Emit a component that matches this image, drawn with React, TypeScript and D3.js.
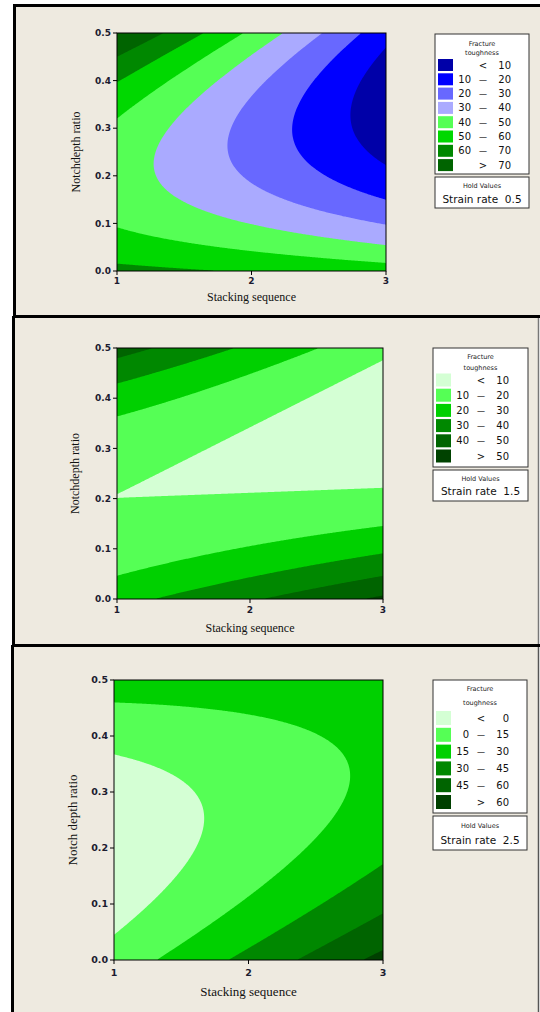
import React from 'react';
import * as d3 from 'd3';

// Axis ranges and ticks shared by the three contour plots
const xDomain = [1, 3];
const yDomain = [0, 0.5];
const xTicks = [1, 2, 3];
const yTicks = [0, 0.1, 0.2, 0.3, 0.4, 0.5];
const xTitle = 'Stacking sequence';
const yTitles = ['Notchdepth ratio', 'Notchdepth ratio', 'Notch depth ratio'];
const legendTitle = ['Fracture', 'toughness'];
const holdTitle = 'Hold Values';
const holdName = 'Strain rate';
const strainRates = ['0.5', '1.5', '2.5'];

// Fitted response surfaces for fracture toughness.
// Terms: [constant, x, y, x², y², x·y] with x = stacking sequence, y = notch depth ratio
const surface05 = [65.35, -2.31, -116.96, -0.39, 430, -60.2];
const surface15 = [15.7, 10.49, -106.03, 0.53, 398, -57.15];
const surface25 = [-19.1, 24.31, -105.81, 1.21, 389, -54.46];

// Contour levels for each hold value
const levels05 = [10, 20, 30, 40, 50, 60, 70];
const levels15 = [10, 20, 30, 40, 50];
const levels25 = [0, 15, 30, 45, 60];

// Band colours, lowest band first
const colors05 = ['#0000A8', '#0000FF', '#6868FF', '#AAAAFF', '#55FF55', '#00D800', '#008800', '#006400'];
const colors15 = ['#D4FFD4', '#55FF55', '#00D000', '#008800', '#006400', '#004200'];
const colors25 = ['#D4FFD4', '#55FF55', '#00D000', '#008800', '#006400', '#004000'];

const BG = '#EEEAE0';

interface Layout {
  plot: [number, number, number, number]; // left, right, top, bottom
  tickFont: number;
  titleFont: number;
  xTickY: number;
  xTitleY: number;
  yTitleX: number;
  legend: { x: number; y: number; w: number; h: number; t1: number; t2: number; row0: number; step: number; sw: number };
  hold: { y: number; h: number; t1: number; t2: number };
}

const layouts: Layout[] = [
  {
    plot: [117, 386, 33, 271],
    tickFont: 9,
    titleFont: 12,
    xTickY: 281,
    xTitleY: 297,
    yTitleX: 76,
    legend: { x: 435, y: 34, w: 94, h: 140, t1: 44, t2: 53, row0: 65, step: 14.3, sw: 12 },
    hold: { y: 177, h: 31, t1: 186, t2: 199 },
  },
  {
    plot: [117, 383, 348, 599],
    tickFont: 9,
    titleFont: 12,
    xTickY: 610,
    xTitleY: 628,
    yTitleX: 75,
    legend: { x: 433, y: 348, w: 95, h: 119, t1: 357, t2: 368, row0: 380, step: 15.2, sw: 13 },
    hold: { y: 470, h: 31, t1: 479, t2: 491 },
  },
  {
    plot: [114, 383, 680, 960],
    tickFont: 9.5,
    titleFont: 13,
    xTickY: 973,
    xTitleY: 991,
    yTitleX: 72,
    legend: { x: 433, y: 680, w: 94, h: 133, t1: 689, t2: 703, row0: 718, step: 16.8, sw: 14 },
    hold: { y: 816, h: 34, t1: 826, t2: 840 },
  },
];

const surfaces = [surface05, surface15, surface25];
const levelSets = [levels05, levels15, levels25];
const colorSets = [colors05, colors15, colors25];

function evalSurface(c: number[], x: number, y: number) {
  return c[0] + c[1] * x + c[2] * y + c[3] * x * x + c[4] * y * y + c[5] * x * y;
}

function fmtTick(v: number) {
  return v.toFixed(1);
}

function ContourPanel({ idx }: { idx: number }) {
  const L = layouts[idx];
  const coef = surfaces[idx];
  const levels = levelSets[idx];
  const colors = colorSets[idx];
  const [left, right, top, bottom] = L.plot;
  const x = d3.scaleLinear().domain(xDomain).range([left, right]);
  const y = d3.scaleLinear().domain(yDomain).range([bottom, top]);

  const nx = 240;
  const ny = 240;
  const values = new Array(nx * ny);
  for (let j = 0; j < ny; j++) {
    const yv = yDomain[1] - ((j + 0.5) / ny) * (yDomain[1] - yDomain[0]);
    for (let i = 0; i < nx; i++) {
      const xv = xDomain[0] + ((i + 0.5) / nx) * (xDomain[1] - xDomain[0]);
      values[j * nx + i] = evalSurface(coef, xv, yv);
    }
  }
  const bands = d3.contours().size([nx, ny]).thresholds(levels)(values);
  const proj = d3.geoTransform({
    point(px: number, py: number) {
      this.stream.point(
        x(xDomain[0] + (px / nx) * (xDomain[1] - xDomain[0])),
        y(yDomain[1] - (py / ny) * (yDomain[1] - yDomain[0]))
      );
    },
  });
  const path = d3.geoPath(proj);
  const clipId = `plot-clip-${idx}`;

  const lg = L.legend;
  const labels = colors.map((_, i) => {
    if (i === 0) return { lo: '', mid: '<', hi: String(levels[0]) };
    if (i === colors.length - 1) return { lo: '', mid: '>', hi: String(levels[levels.length - 1]) };
    return { lo: String(levels[i - 1]), mid: '\u2014', hi: String(levels[i]) };
  });
  const sans = '"DejaVu Sans", Verdana, sans-serif';
  const serif = '"Liberation Serif", "Times New Roman", serif';

  return (
    <g>
      <defs>
        <clipPath id={clipId}>
          <rect x={left} y={top} width={right - left} height={bottom - top} />
        </clipPath>
      </defs>
      <g clipPath={`url(#${clipId})`}>
        <rect x={left} y={top} width={right - left} height={bottom - top} fill={colors[0]} />
        {bands.map((b, i) => (
          <path key={i} d={path(b as any) || ''} fill={colors[i + 1]} stroke="none" />
        ))}
      </g>
      <rect x={left} y={top} width={right - left} height={bottom - top} fill="none" stroke="#000" strokeWidth={1} />
      {yTicks.map((t) => (
        <g key={`y${t}`}>
          <line x1={left - 4} x2={left} y1={y(t)} y2={y(t)} stroke="#000" />
          <text x={left - 6} y={y(t)} dy="0.35em" textAnchor="end" fontFamily={sans} fontWeight="bold" fontSize={L.tickFont} fill="#1c1c30">
            {fmtTick(t)}
          </text>
        </g>
      ))}
      {xTicks.map((t) => (
        <g key={`x${t}`}>
          <line x1={x(t)} x2={x(t)} y1={bottom} y2={bottom + 4} stroke="#000" />
          <text x={x(t)} y={L.xTickY} dy="0.35em" textAnchor="middle" fontFamily={sans} fontWeight="bold" fontSize={L.tickFont} fill="#1c1c30">
            {t}
          </text>
        </g>
      ))}
      <text x={(left + right) / 2} y={L.xTitleY} dy="0.35em" textAnchor="middle" fontFamily={serif} fontSize={L.titleFont} fill="#111">
        {xTitle}
      </text>
      <text
        transform={`translate(${L.yTitleX},${(top + bottom) / 2}) rotate(-90)`}
        dy="0.35em"
        textAnchor="middle"
        fontFamily={serif}
        fontSize={L.titleFont}
        fill="#111"
      >
        {yTitles[idx]}
      </text>

      {/* legend */}
      <rect x={lg.x} y={lg.y} width={lg.w} height={lg.h} fill="#fff" stroke="#333" strokeWidth={1} />
      <text x={lg.x + lg.w / 2} y={lg.t1} dy="0.35em" textAnchor="middle" fontFamily={sans} fontSize={6.5} fill="#222">
        {legendTitle[0]}
      </text>
      <text x={lg.x + lg.w / 2} y={lg.t2} dy="0.35em" textAnchor="middle" fontFamily={sans} fontSize={6.5} fill="#222">
        {legendTitle[1]}
      </text>
      {labels.map((lb, i) => {
        const cy = lg.row0 + i * lg.step;
        return (
          <g key={`lg${i}`}>
            <rect x={lg.x + 3} y={cy - lg.sw / 2} width={15} height={lg.sw} fill={colors[i]} />
            <text x={lg.x + 36} y={cy + 3.5} textAnchor="end" fontFamily={sans} fontSize={10} fill="#111">
              {lb.lo}
            </text>
            <text x={lg.x + 48} y={cy + 3.5} textAnchor="middle" fontFamily={sans} fontSize={lb.mid === '\u2014' ? 8 : 10} fill="#111">
              {lb.mid}
            </text>
            <text x={lg.x + 76} y={cy + 3.5} textAnchor="end" fontFamily={sans} fontSize={10} fill="#111">
              {lb.hi}
            </text>
          </g>
        );
      })}
      <rect x={lg.x} y={L.hold.y} width={lg.w} height={L.hold.h} fill="#fff" stroke="#333" strokeWidth={1} />
      <text x={lg.x + lg.w / 2} y={L.hold.t1} dy="0.35em" textAnchor="middle" fontFamily={sans} fontSize={6.5} fill="#222">
        {holdTitle}
      </text>
      <text x={lg.x + lg.w / 2} y={L.hold.t2} dy="0.35em" textAnchor="middle" fontFamily={sans} fontSize={10.5} fill="#111">
        {`${holdName}\u00a0 ${strainRates[idx]}`}
      </text>
    </g>
  );
}

export default function App() {
  return (
    <div style={{ position: 'absolute', left: 0, top: 0, width: 540, height: 1012, background: '#fff' }}>
      <svg width={540} height={1012} viewBox="0 0 540 1012" style={{ display: 'block' }}>
        <rect x={0} y={0} width={540} height={1012} fill="#fff" />
        {/* frame backgrounds */}
        <rect x={14} y={5} width={526} height={312} fill={BG} />
        <rect x={13} y={317} width={525} height={328} fill={BG} />
        <rect x={12} y={645} width={526} height={367} fill={BG} />
        {/* frame borders */}
        <line x1={14.5} x2={14.5} y1={4} y2={318} stroke="#000" strokeWidth={3} />
        <line x1={13} x2={540} y1={5.5} y2={5.5} stroke="#000" strokeWidth={3} />
        <line x1={13} x2={540} y1={316.5} y2={316.5} stroke="#000" strokeWidth={3} />
        <line x1={13.5} x2={13.5} y1={316} y2={646} stroke="#000" strokeWidth={3} />
        <line x1={12} x2={540} y1={645.5} y2={645.5} stroke="#000" strokeWidth={3} />
        <line x1={12.5} x2={12.5} y1={645} y2={1012} stroke="#000" strokeWidth={3} />
        <line x1={538.5} x2={538.5} y1={318} y2={644} stroke="#777" strokeWidth={1.5} />
        <line x1={538.5} x2={538.5} y1={647} y2={1012} stroke="#555" strokeWidth={1.5} />
        {[0, 1, 2].map((i) => (
          <ContourPanel key={i} idx={i} />
        ))}
      </svg>
    </div>
  );
}
